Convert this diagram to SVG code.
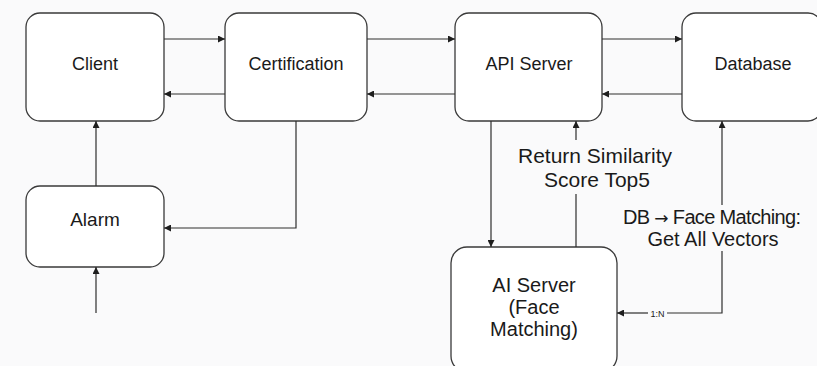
<svg xmlns="http://www.w3.org/2000/svg" width="817" height="366" viewBox="0 0 817 366">
  <style>
    .box { fill: #ffffff; stroke: #3a3a3a; stroke-width: 1.3; }
    .lbl { font-family: "Liberation Sans", Arial, Helvetica, sans-serif; fill: #1a1a1a; text-anchor: middle; }
    .node { font-size: 18px; }
    .ai { font-size: 20px; }
    .edge-lbl { font-size: 21px; }
    .tiny { font-size: 9px; }
    .arr { font-family: "DejaVu Sans", sans-serif; font-size: 17px; }
    .wire { fill: none; stroke: #2e2e2e; stroke-width: 1.2; }
  </style>
  <defs>
    <marker id="arrow" viewBox="0 0 10 10" refX="10" refY="5" markerWidth="8" markerHeight="7" markerUnits="userSpaceOnUse" orient="auto">
      <path d="M0,0 L10,5 L0,10 Z" fill="#1e1e1e"/>
    </marker>
  </defs>

  <rect x="0" y="0" width="817" height="366" fill="#fafafb"/>

  <g id="client">
    <rect class="box" x="26" y="13" width="138" height="108" rx="14"/>
    <text class="lbl node" x="95" y="70">Client</text>
  </g>
  <g id="certification">
    <rect class="box" x="225" y="13" width="142" height="108" rx="14"/>
    <text class="lbl node" x="296" y="70">Certification</text>
  </g>
  <g id="api-server">
    <rect class="box" x="455" y="13" width="147" height="108" rx="14"/>
    <text class="lbl node" x="529" y="70">API Server</text>
  </g>
  <g id="database">
    <rect class="box" x="682" y="13" width="140" height="108" rx="14"/>
    <text class="lbl node" x="753" y="70">Database</text>
  </g>
  <g id="alarm">
    <rect class="box" x="26" y="186" width="138" height="81" rx="14"/>
    <text class="lbl node" x="95" y="226" style="font-size:19px">Alarm</text>
  </g>
  <g id="ai-server">
    <rect class="box" x="451" y="247" width="166" height="125" rx="16"/>
    <text class="lbl ai" x="534" y="292">AI Server</text>
    <text class="lbl ai" x="534" y="314">(Face</text>
    <text class="lbl ai" x="534" y="336">Matching)</text>
  </g>

  <g id="connectors">
    <!-- top row, request / response pairs -->
    <line class="wire" x1="164" y1="39" x2="225" y2="39" marker-end="url(#arrow)"/>
    <line class="wire" x1="225" y1="94" x2="164" y2="94" marker-end="url(#arrow)"/>
    <line class="wire" x1="367" y1="39" x2="455" y2="39" marker-end="url(#arrow)"/>
    <line class="wire" x1="455" y1="94" x2="367" y2="94" marker-end="url(#arrow)"/>
    <line class="wire" x1="602" y1="39" x2="682" y2="39" marker-end="url(#arrow)"/>
    <line class="wire" x1="682" y1="94" x2="602" y2="94" marker-end="url(#arrow)"/>

    <!-- alarm side -->
    <line class="wire" x1="96" y1="186" x2="96" y2="121" marker-end="url(#arrow)"/>
    <line class="wire" x1="96" y1="313" x2="96" y2="267" marker-end="url(#arrow)"/>
    <polyline class="wire" points="296,121 296,228 164,228" marker-end="url(#arrow)"/>

    <!-- API server to AI server and back -->
    <line class="wire" x1="491" y1="121" x2="491" y2="247" marker-end="url(#arrow)"/>
    <line class="wire" x1="576" y1="247" x2="576" y2="194"/>
    <line class="wire" x1="576" y1="140" x2="576" y2="121" marker-end="url(#arrow)"/>
    <text class="lbl edge-lbl" x="595" y="163">Return Similarity</text>
    <text class="lbl edge-lbl" x="597" y="187">Score Top5</text>

    <!-- database vectors feed to AI server -->
    <line class="wire" x1="722" y1="205" x2="722" y2="121" marker-end="url(#arrow)"/>
    <polyline class="wire" points="722,251 722,313 667,313"/>
    <line class="wire" x1="648" y1="313" x2="617" y2="313" marker-end="url(#arrow)"/>
    <text class="lbl tiny" x="657.5" y="316.5">1:N</text>
    <text class="lbl edge-lbl" x="712" y="224" style="font-size:20px" textLength="178" lengthAdjust="spacing">DB <tspan class="arr">→</tspan> Face Matching:</text>
    <text class="lbl edge-lbl" x="713" y="246" style="font-size:20px">Get All Vectors</text>
  </g>
</svg>
